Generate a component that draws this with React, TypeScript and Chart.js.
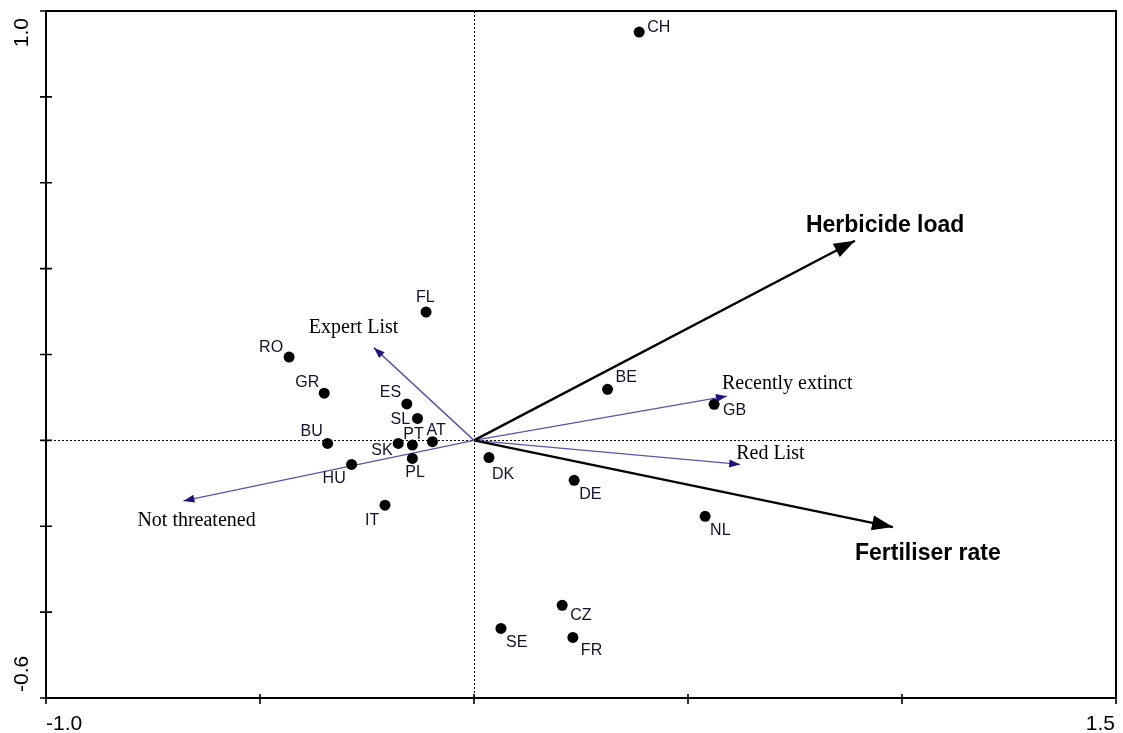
import React, { useEffect, useRef } from "react";
import { Chart, registerables } from "chart.js";

Chart.register(...registerables);

// Site (country) scores on the first two ordination axes
const sites = ["CH", "FL", "RO", "GR", "ES", "SL", "BU", "SK", "PT", "AT", "PL", "HU", "IT", "DK", "BE", "GB", "DE", "NL", "CZ", "SE", "FR"];
const siteAxis1 = [0.386, -0.112, -0.432, -0.35, -0.157, -0.132, -0.342, -0.177, -0.144, -0.097, -0.144, -0.286, -0.208, 0.035, 0.312, 0.561, 0.234, 0.54, 0.206, 0.063, 0.231];
const siteAxis2 = [0.951, 0.299, 0.194, 0.11, 0.085, 0.051, -0.007, -0.007, -0.011, -0.003, -0.042, -0.056, -0.151, -0.04, 0.119, 0.084, -0.093, -0.177, -0.384, -0.438, -0.459];

// Response variables (species groups)
const species = ["Recently extinct", "Red List", "Expert List", "Not threatened"];
const speciesAxis1 = [0.591, 0.622, -0.234, -0.679];
const speciesAxis2 = [0.103, -0.056, 0.216, -0.141];

// Explanatory (environmental) variables
const envVars = ["Herbicide load", "Fertiliser rate"];
const envAxis1 = [0.89, 0.979];
const envAxis2 = [0.465, -0.202];

// Axis ticks and the labelled end values
const xTicks = [-1.0, -0.5, 0, 0.5, 1.0, 1.5];
const yTicks = [-0.6, -0.4, -0.2, 0, 0.2, 0.4, 0.6, 0.8, 1.0];
const xTickLabels = ["-1.0", "1.5"];
const yTickLabels = ["-0.6", "1.0"];

// Label placement: [dx to text left edge, dy to baseline] in px from the mark
const siteLabelOffset: Record<string, [number, number]> = {
  CH: [8, 0], FL: [-10, -10], RO: [-30, -5], GR: [-29, -6], ES: [-27, -7],
  SL: [-27, 6], BU: [-27, -7], SK: [-27, 12], PT: [-9, -6], AT: [-6, -7],
  PL: [-7, 19], HU: [-29, 19], IT: [-20, 20], DK: [3, 21], BE: [8, -7],
  GB: [9, 11], DE: [5, 19], NL: [5, 19], CZ: [8, 15], SE: [5, 19], FR: [8, 18],
};
const arrowLabelOffset: Record<string, [number, number]> = {
  "Herbicide load": [-49, -9],
  "Fertiliser rate": [-38, 33],
  "Recently extinct": [-5, -7],
  "Red List": [-4, -5],
  "Expert List": [-65, -15],
  "Not threatened": [-46, 25],
};

const SANS = "'Liberation Sans', Arial, sans-serif";
const SERIF = "'Liberation Serif', 'Times New Roman', serif";

const biplotPlugin = {
  id: "biplot",
  beforeDatasetsDraw(chart: any) {
    const { ctx, chartArea, scales } = chart;
    const x0 = scales.x.getPixelForValue(0);
    const y0 = scales.y.getPixelForValue(0);
    ctx.save();
    ctx.strokeStyle = "#000";
    ctx.lineWidth = 1;
    ctx.setLineDash([2, 2]);
    ctx.beginPath();
    ctx.moveTo(Math.round(x0) + 0.5, chartArea.top);
    ctx.lineTo(Math.round(x0) + 0.5, chartArea.bottom);
    ctx.moveTo(chartArea.left, Math.round(y0) + 0.5);
    ctx.lineTo(chartArea.right, Math.round(y0) + 0.5);
    ctx.stroke();
    ctx.restore();
  },
  afterDatasetDraw(chart: any, args: any) {
    const ds = chart.data.datasets[args.index] as any;
    if (!ds.arrowHead) return;
    const pts = args.meta.data;
    const a = pts[0];
    const b = pts[1];
    const ang = Math.atan2(b.y - a.y, b.x - a.x);
    const { len, half, color } = ds.arrowHead;
    const { ctx } = chart;
    const bx = b.x - len * Math.cos(ang);
    const by = b.y - len * Math.sin(ang);
    ctx.save();
    ctx.fillStyle = color;
    ctx.beginPath();
    ctx.moveTo(b.x, b.y);
    ctx.lineTo(bx + half * Math.sin(ang), by - half * Math.cos(ang));
    ctx.lineTo(bx - half * Math.sin(ang), by + half * Math.cos(ang));
    ctx.closePath();
    ctx.fill();
    ctx.restore();
  },
  afterDraw(chart: any) {
    const { ctx, chartArea, scales } = chart;
    ctx.save();
    // frame
    ctx.strokeStyle = "#000";
    ctx.lineWidth = 2;
    ctx.strokeRect(chartArea.left, chartArea.top, chartArea.right - chartArea.left, chartArea.bottom - chartArea.top);
    // tick marks crossing the left and bottom axes
    ctx.lineWidth = 1.6;
    ctx.beginPath();
    xTicks.forEach((v) => {
      const px = scales.x.getPixelForValue(v);
      ctx.moveTo(px, chartArea.bottom - 4);
      ctx.lineTo(px, chartArea.bottom + 6);
    });
    yTicks.forEach((v) => {
      const py = scales.y.getPixelForValue(v);
      ctx.moveTo(chartArea.left - 6, py);
      ctx.lineTo(chartArea.left + 6, py);
    });
    ctx.stroke();

    // end tick labels
    ctx.fillStyle = "#000";
    ctx.font = `21px ${SANS}`;
    ctx.textBaseline = "alphabetic";
    ctx.textAlign = "left";
    ctx.fillText(xTickLabels[0], scales.x.getPixelForValue(xTicks[0]), 730);
    ctx.textAlign = "right";
    ctx.fillText(xTickLabels[1], scales.x.getPixelForValue(xTicks[xTicks.length - 1]) - 1, 730);
    const drawRot = (text: string, y: number, align: CanvasTextAlign) => {
      ctx.save();
      ctx.translate(28, y);
      ctx.rotate(-Math.PI / 2);
      ctx.textAlign = align;
      ctx.fillText(text, 0, 0);
      ctx.restore();
    };
    drawRot(yTickLabels[0], scales.y.getPixelForValue(yTicks[0]) - 6, "left");
    drawRot(yTickLabels[1], scales.y.getPixelForValue(yTicks[yTicks.length - 1]) + 7, "right");

    // site labels
    const siteMeta = chart.getDatasetMeta(0);
    ctx.font = `16px ${SANS}`;
    ctx.fillStyle = "#10122e";
    ctx.textAlign = "left";
    sites.forEach((s, i) => {
      const p = siteMeta.data[i];
      const [dx, dy] = siteLabelOffset[s];
      ctx.fillText(s, p.x + dx, p.y + dy);
    });

    // arrow labels
    chart.data.datasets.forEach((ds: any, i: number) => {
      if (!ds.arrowHead) return;
      const tip = chart.getDatasetMeta(i).data[1];
      const [dx, dy] = arrowLabelOffset[ds.label];
      ctx.fillStyle = "#000";
      ctx.font = ds.kind === "env" ? `bold 23px ${SANS}` : `20px ${SERIF}`;
      ctx.fillText(ds.label, tip.x + dx, tip.y + dy);
    });
    ctx.restore();
  },
};

export default function App() {
  const ref = useRef<HTMLCanvasElement | null>(null);

  useEffect(() => {
    document.body.style.margin = "0";
    if (!ref.current) return;

    const speciesSets = species.map((name, i) => ({
      label: name,
      kind: "species",
      data: [{ x: 0, y: 0 }, { x: speciesAxis1[i], y: speciesAxis2[i] }],
      showLine: true,
      borderColor: "#5e52ad",
      borderWidth: 1.4,
      pointRadius: 0,
      order: 2,
      arrowHead: { len: 11, half: 4, color: "#1b1580" },
    }));
    const envSets = envVars.map((name, i) => ({
      label: name,
      kind: "env",
      data: [{ x: 0, y: 0 }, { x: envAxis1[i], y: envAxis2[i] }],
      showLine: true,
      borderColor: "#000",
      borderWidth: 2.4,
      pointRadius: 0,
      order: 1,
      arrowHead: { len: 21, half: 7.5, color: "#000" },
    }));

    const chart = new Chart(ref.current, {
      type: "scatter",
      data: {
        datasets: [
          {
            label: "Sites",
            data: sites.map((_, i) => ({ x: siteAxis1[i], y: siteAxis2[i] })),
            backgroundColor: "#000",
            borderColor: "#000",
            pointRadius: 5.5,
            pointBorderWidth: 0,
            order: 0,
          } as any,
          ...envSets,
          ...speciesSets,
        ],
      },
      options: {
        responsive: false,
        animation: false,
        layout: { padding: { left: 46, right: 7, top: 11, bottom: 35 } },
        plugins: { legend: { display: false }, tooltip: { enabled: false } },
        events: [],
        scales: {
          x: { type: "linear", min: -1.0, max: 1.5, display: false },
          y: { type: "linear", min: -0.6, max: 1.0, display: false },
        },
      },
      plugins: [biplotPlugin],
    });
    return () => chart.destroy();
  }, []);

  return (
    <div style={{ width: 1123, height: 733, background: "#fff" }}>
      <canvas ref={ref} width={1123} height={733} style={{ display: "block" }} />
    </div>
  );
}
